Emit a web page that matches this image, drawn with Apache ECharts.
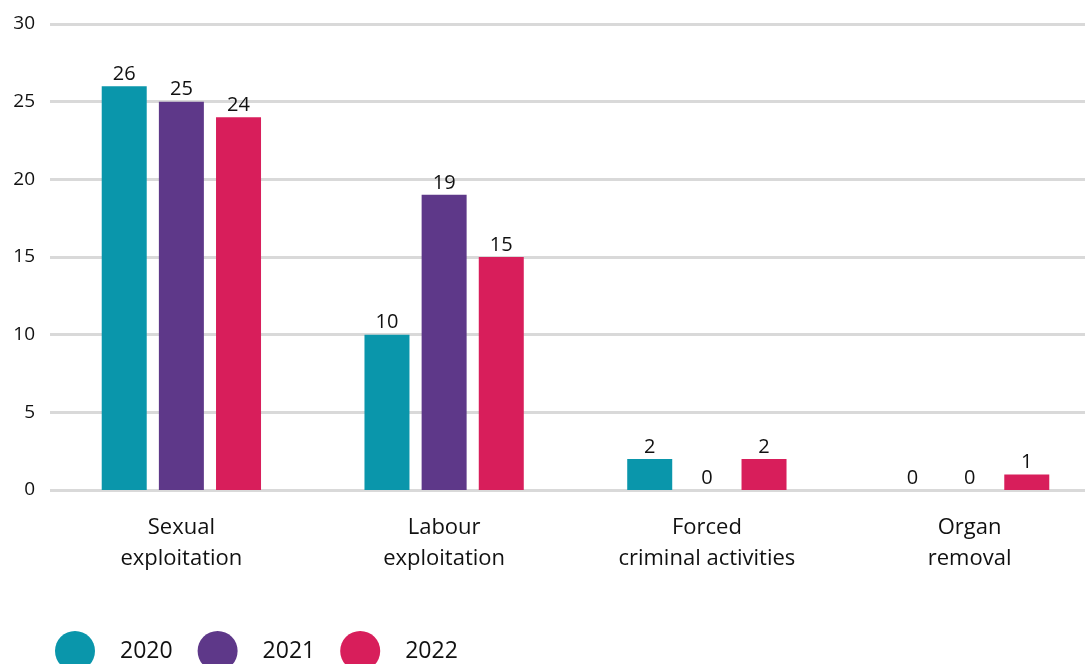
<!DOCTYPE html>
<html><head><meta charset="utf-8">
<script src="https://cdn.jsdelivr.net/npm/echarts@6/dist/echarts.min.js"></script>
<style>html,body{margin:0;padding:0;background:#fff}#c{width:1085px;height:664px}</style>
</head><body><div id="c"></div>
<script>
const categories = ['Sexual\nexploitation', 'Labour\nexploitation', 'Forced\ncriminal activities', 'Organ\nremoval'];
const years = ['2020', '2021', '2022'];
const values2020 = [26, 10, 2, 0];
const values2021 = [25, 19, 0, 0];
const values2022 = [24, 15, 2, 1];
const colors = ['#0A96AB', '#5E3889', '#D81E5B'];
const font = '"Open Sans", sans-serif';
const seriesData = [values2020, values2021, values2022];
const chart = echarts.init(document.getElementById('c'));
chart.setOption({
  animation: false,
  textStyle: {fontFamily: font},
  grid: {left: 50, width: 1051, top: 24, height: 466, containLabel: false, outerBoundsMode: 'none'},
  legend: {
    left: 50, top: 626, itemWidth: 40, itemHeight: 40, itemGap: 25, icon: 'circle',
    textStyle: {fontSize: 23, color: '#111', fontFamily: font, padding: [0, 0, 0, 20]},
    data: years
  },
  xAxis: {
    type: 'category', data: categories,
    axisLine: {show: false}, axisTick: {show: false},
    axisLabel: {fontSize: 22, color: '#111', lineHeight: 31, margin: 22, fontFamily: font}
  },
  yAxis: {
    type: 'value', min: 0, max: 30, interval: 5,
    axisLine: {show: false}, axisTick: {show: false},
    axisLabel: {fontSize: 19, color: '#111', margin: 15, fontFamily: font},
    splitLine: {lineStyle: {color: '#d9d9d9', width: 3}}
  },
  series: years.map((y, i) => ({
    name: y, type: 'bar', data: seriesData[i],
    barWidth: 45, barGap: '27%',
    itemStyle: {color: colors[i]},
    label: {show: true, position: 'top', distance: 2, fontSize: 20, color: '#111', fontFamily: font}
  }))
});
</script></body></html>
